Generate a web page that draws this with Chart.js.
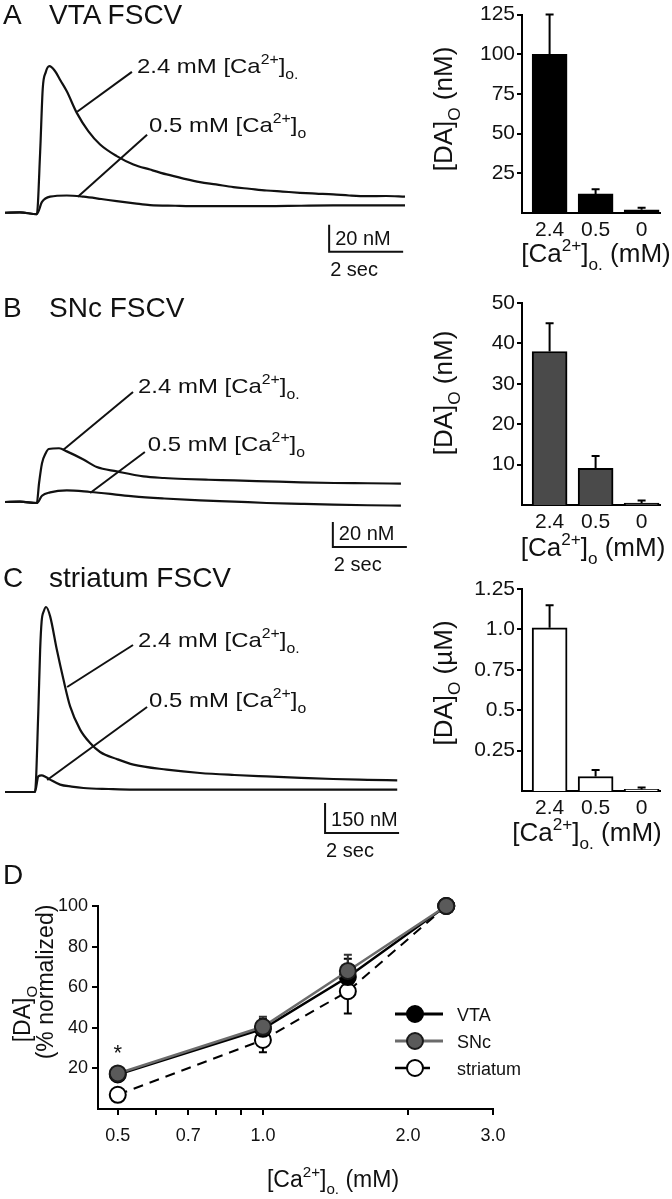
<!DOCTYPE html>
<html>
<head>
<meta charset="utf-8">
<script src="https://cdn.jsdelivr.net/npm/chart.js@4.4.0/dist/chart.umd.min.js"></script>
<style>
  body { margin: 0; background: #fff; }
  #fig { position: relative; width: 672px; height: 1199px; background: #fff; overflow: hidden;
         font-family: 'Liberation Sans', Arial, sans-serif; color: #111; }
  #fig canvas { position: absolute; }
  .tag { position: absolute; font-size: 28px; line-height: 28px; z-index: 2; white-space: nowrap; }
</style>
</head>
<body>
<div id="fig">
  <div class="tag" style="left:3px;top:1px">A</div>
  <div class="tag" style="left:49px;top:1px">VTA FSCV</div>
  <div class="tag" style="left:3px;top:294px">B</div>
  <div class="tag" style="left:49px;top:294px">SNc FSCV</div>
  <div class="tag" style="left:3px;top:564px">C</div>
  <div class="tag" style="left:49px;top:564px">striatum FSCV</div>
  <div class="tag" style="left:3px;top:861px">D</div>

  <canvas id="traceA" width="420" height="310" style="left:0;top:0"></canvas>
  <canvas id="traceB" width="420" height="310" style="left:0;top:280px"></canvas>
  <canvas id="traceC" width="420" height="310" style="left:0;top:555px"></canvas>
  <canvas id="barA" width="252" height="275" style="left:420px;top:0"></canvas>
  <canvas id="barB" width="252" height="290" style="left:420px;top:275px"></canvas>
  <canvas id="barC" width="252" height="300" style="left:420px;top:560px"></canvas>
  <canvas id="curveD" width="672" height="329" style="left:0;top:870px"></canvas>
</div>

<script>
const FONT = "'Liberation Sans', Arial, sans-serif";
const INK = '#111';

// ---- FSCV traces: time (s) and [DA] above baseline (nM)
const vtaHighT = [0, 0.4, 0.86, 0.95, 1.02, 1.1, 1.2, 1.35, 1.5, 1.67, 1.94, 2.25, 2.57, 3.02, 3.47, 3.92, 4.37, 4.8, 5.27, 5.7, 6.17, 6.6, 7.07, 7.5, 7.97, 8.4, 8.87, 9.3, 9.77, 10.3, 10.81];
const vtaHighY = [0, 0.3, -1, 45, 92, 104, 108.6, 105, 98, 90, 74, 60.5, 50.6, 42, 35.8, 32, 28.4, 25.5, 22.7, 21, 19, 17.8, 16.5, 15.7, 14.8, 14.2, 13.6, 12.8, 12.3, 12.4, 11.9];
const vtaLowT = [0, 0.4, 0.86, 1.0, 1.22, 1.67, 2.12, 2.6, 3.02, 3.5, 3.92, 4.6, 5.27, 6.2, 7.07, 8.0, 8.87, 9.8, 10.81];
const vtaLowY = [0, 0.3, -1, 8, 11.9, 12.8, 11.9, 10.2, 8.6, 7, 5.7, 5.2, 4.9, 4.9, 4.9, 5.2, 5.4, 5.4, 5.4];

const sncHighT = [0, 0.4, 0.86, 0.92, 1.0, 1.1, 1.18, 1.46, 1.67, 2.12, 2.48, 3.02, 3.74, 4.3, 4.85, 5.5, 6.2, 7.1, 8.0, 8.9, 9.8, 10.7];
const sncHighY = [0, 0.3, -0.8, 15, 31, 39, 42.4, 43, 40.5, 34, 28, 24.5, 20.5, 19.2, 18.4, 17.8, 17.3, 16.5, 15.7, 15.2, 15, 14.7];
const sncLowT = [0, 0.4, 0.86, 1.0, 1.22, 1.67, 2.3, 2.9, 3.47, 4.3, 5.27, 6.2, 7.07, 8.0, 8.87, 9.8, 10.7];
const sncLowY = [0, 0.3, -0.8, 5, 7.7, 9.3, 8, 6.3, 4.5, 2.8, 1.3, 0.3, -0.8, -1.5, -2.1, -2.6, -2.9];

const strHighT = [0, 0.4, 0.81, 0.9, 0.95, 0.99, 1.05, 1.11, 1.22, 1.4, 1.58, 1.76, 2.03, 2.3, 2.57, 3.02, 3.47, 4.37, 5.27, 6.2, 7.07, 8.0, 8.87, 9.8, 10.6];
const strHighY = [0, 0, 0, 400, 712, 853, 905, 925, 878, 712, 562, 428, 312, 245, 200, 165, 137, 112, 95, 85, 78, 71, 65, 61, 58];
const strLowT = [0, 0.4, 0.81, 0.9, 0.99, 1.1, 1.22, 1.49, 1.8, 2.12, 2.8, 3.47, 5, 7, 9, 10.6];
const strLowY = [0, 0, 0, 78, 83, 75, 62, 37, 27, 20, 15, 12, 12, 12, 12, 12];

// ---- bar graphs
const caLevels = ['2.4', '0.5', '0'];
const vtaMean = [100, 12, 2];
const vtaSem = [25, 3, 1.3];
const sncMean = [38, 9.1, 0.5];
const sncSem = [7, 3, 0.6];
const strMean = [1.01, 0.09, 0.01];
const strSem = [0.14, 0.04, 0.012];
const vtaTicks = [25, 50, 75, 100, 125];
const sncTicks = [10, 20, 30, 40, 50];
const strTicks = [0.25, 0.5, 0.75, 1.0, 1.25];
const strTickLabels = ['0.25', '0.5', '0.75', '1.0', '1.25'];

// ---- panel D: normalized release vs [Ca2+]o
const caConc = [0.5, 1.0, 1.5, 2.4];
const vtaNorm = [17, 39.5, 65, 100];
const vtaErr = [2, 5, 9, 0];
const sncNorm = [17.5, 40.5, 68, 100];
const sncErr = [2, 5, 8, 0];
const strNorm = [7, 34, 58, 100];
const strErr = [2, 6, 11, 0];
const dXTicks = [0.5, 0.6, 0.7, 0.8, 0.9, 1, 2, 3];
const dXLabels = ['0.5', '', '0.7', '', '', '1.0', '2.0', '3.0'];
const dYTicks = [20, 40, 60, 80, 100];

// text pieces: [text, 0 normal / 1 superscript / -1 subscript]
const CA_DOT = [['[Ca', 0], ['2+', 1], [']', 0], ['o.', -1]];
const CA = [['[Ca', 0], ['2+', 1], [']', 0], ['o', -1]];
const HIGH = [['2.4 mM ', 0]].concat(CA_DOT);
const LOW = [['0.5 mM ', 0]].concat(CA);

function drawRich(ctx, parts, x, y, size, align, stretch) {
  const sx = stretch || 1;
  const widths = parts.map(([t, k]) => {
    ctx.font = (k ? size * 0.66 : size) + 'px ' + FONT;
    return ctx.measureText(t).width;
  });
  const total = widths.reduce((a, b) => a + b, 0) * sx;
  const left = align === 'center' ? x - total / 2 : align === 'right' ? x - total : x;
  ctx.save();
  ctx.translate(left, y);
  ctx.scale(sx, 1);
  ctx.textAlign = 'left';
  ctx.textBaseline = 'alphabetic';
  let cx = 0;
  parts.forEach(([t, k], i) => {
    ctx.font = (k ? size * 0.66 : size) + 'px ' + FONT;
    const dy = k === 1 ? -size * 0.42 : k === -1 ? size * 0.3 : 0;
    ctx.fillText(t, cx, dy);
    cx += widths[i];
  });
  ctx.restore();
}

const pts = (xs, ys) => xs.map((v, i) => ({ x: v, y: ys[i] }));

function traceChart(id, series, yMin, yMax, notes, bar) {
  new Chart(document.getElementById(id), {
    type: 'line',
    data: {
      datasets: series.map(([t, y]) => ({
        data: pts(t, y),
        borderColor: INK,
        borderWidth: 2.2,
        pointRadius: 0,
        cubicInterpolationMode: 'monotone',
        clip: false
      }))
    },
    options: {
      responsive: false,
      animation: false,
      events: [],
      layout: { padding: { left: 5, right: 15, top: 40, bottom: 50 } },
      scales: {
        x: { type: 'linear', display: false, min: 0, max: 10.81 },
        y: { display: false, min: yMin, max: yMax }
      },
      plugins: { legend: { display: false }, tooltip: { enabled: false } }
    },
    plugins: [{
      id: 'traceNotes',
      afterDraw(chart) {
        const { ctx } = chart;
        const xs = chart.scales.x, ys = chart.scales.y;
        ctx.save();
        ctx.strokeStyle = INK;
        ctx.fillStyle = INK;
        ctx.lineWidth = 2;
        notes.forEach(n => {
          const x1 = xs.getPixelForValue(n.from[0]), y1 = ys.getPixelForValue(n.from[1]);
          const x2 = xs.getPixelForValue(n.to[0]), y2 = ys.getPixelForValue(n.to[1]);
          ctx.beginPath();
          ctx.moveTo(x1, y1);
          ctx.lineTo(x2, y2);
          ctx.stroke();
          drawRich(ctx, n.parts, x2 + n.dx, y2 + n.dy, 21, 'left', 1.14);
        });
        // scale bar
        const bx0 = xs.getPixelForValue(bar.t), bx1 = xs.getPixelForValue(bar.t + bar.dt);
        const by0 = ys.getPixelForValue(bar.y), by1 = ys.getPixelForValue(bar.y + bar.dy);
        ctx.beginPath();
        ctx.moveTo(bx0, by1);
        ctx.lineTo(bx0, by0);
        ctx.lineTo(bx1, by0);
        ctx.stroke();
        drawRich(ctx, [[bar.label, 0]], bx0 + 6, by0 - 7, 20, 'left');
        drawRich(ctx, [['2 sec', 0]], bx0 + 1, by0 + 24, 20, 'left');
        ctx.restore();
      }
    }]
  });
}

traceChart('traceA', [[vtaHighT, vtaHighY], [vtaLowT, vtaLowY]], -35, 128,
  [{ parts: HIGH, from: [1.95, 74.8], to: [3.43, 104.4], dx: 5, dy: 1 },
   { parts: LOW, from: [1.97, 11.9], to: [3.84, 57.8], dx: 2, dy: -3 }],
  { t: 8.76, y: -28.9, dy: 20, dt: 2, label: '20 nM' });

traceChart('traceB', [[sncHighT, sncHighY], [sncLowT, sncLowY]], -30.4, 145.6,
  [{ parts: HIGH, from: [1.57, 41.6], to: [3.46, 88], dx: 5, dy: 1 },
   { parts: LOW, from: [2.3, 7.2], to: [3.78, 40], dx: 3, dy: -1 }],
  { t: 8.86, y: -36, dy: 20, dt: 2, label: '20 nM' });

traceChart('traceC', [[strHighT, strHighY], [strLowT, strLowY]], -115, 985,
  [{ parts: HIGH, from: [1.68, 525], to: [3.46, 735], dx: 5, dy: 2 },
   { parts: LOW, from: [1.14, 60], to: [3.84, 425], dx: 2, dy: 0 }],
  { t: 8.65, y: -205, dy: 150, dt: 2, label: '150 nM' });

function barChart(id, means, sems, fill, yMax, ticks, tickLabels, unitParts, xParts, lay) {
  const tickFont = { family: FONT, size: 21 };
  new Chart(document.getElementById(id), {
    type: 'bar',
    data: {
      datasets: [{
        data: means.map((m, i) => ({ x: i, y: m })),
        backgroundColor: fill,
        borderColor: '#000',
        borderWidth: 2,
        barThickness: 35
      }]
    },
    options: {
      responsive: false,
      animation: false,
      events: [],
      layout: { padding: { top: lay.top, right: 12, left: 0, bottom: 0 } },
      scales: {
        x: {
          type: 'linear', min: -0.6, max: 2.4, offset: false,
          grid: { display: true, offset: false, drawOnChartArea: false, drawTicks: false },
          border: { color: '#000', width: 2 },
          ticks: { font: tickFont, color: INK, padding: 5, maxRotation: 0, autoSkip: false,
                   callback: (v, i) => caLevels[i] },
          afterBuildTicks: s => { s.ticks = caLevels.map((c, i) => ({ value: i })); },
          afterFit: s => { s.height = lay.h - lay.bottom; }
        },
        y: {
          min: 0, max: yMax,
          grid: { drawOnChartArea: false, tickLength: 5, color: '#000', lineWidth: 2 },
          border: { color: '#000', width: 2 },
          ticks: { font: tickFont, color: INK, padding: 2, autoSkip: false,
                   callback: (v, i) => tickLabels[i] },
          afterBuildTicks: s => { s.ticks = ticks.map(v => ({ value: v })); },
          afterFit: s => { s.width = 102; }
        }
      },
      plugins: { legend: { display: false }, tooltip: { enabled: false } }
    },
    plugins: [{
      id: 'semBars',
      afterDatasetsDraw(chart) {
        const { ctx } = chart;
        const ys = chart.scales.y;
        ctx.save();
        ctx.strokeStyle = '#000';
        ctx.lineWidth = 2;
        chart.getDatasetMeta(0).data.forEach((el, i) => {
          const top = ys.getPixelForValue(means[i]);
          const hi = ys.getPixelForValue(means[i] + sems[i]);
          ctx.beginPath();
          ctx.moveTo(el.x, top);
          ctx.lineTo(el.x, hi);
          ctx.moveTo(el.x - 4, hi);
          ctx.lineTo(el.x + 4, hi);
          ctx.stroke();
        });
        ctx.restore();
      },
      afterDraw(chart) {
        const { ctx, chartArea } = chart;
        ctx.save();
        ctx.fillStyle = INK;
        ctx.translate(23, lay.yTitleY);
        ctx.rotate(-Math.PI / 2);
        drawRich(ctx, [['[DA]', 0], ['O', -1]].concat(unitParts), 0, 9, 26, 'center');
        ctx.restore();
        ctx.save();
        ctx.fillStyle = INK;
        drawRich(ctx, xParts, lay.xTitleX, chartArea.bottom + lay.xTitleDy, 26, 'center');
        ctx.restore();
      }
    }]
  });
}

barChart('barA', vtaMean, vtaSem, '#000', 125, vtaTicks, vtaTicks.map(String),
  [[' (nM)', 0]], CA_DOT.concat([[' (mM)', 0]]),
  { top: 12, bottom: 213, h: 275, yTitleY: 109, xTitleX: 176, xTitleDy: 49 });

barChart('barB', sncMean, sncSem, '#4a4a4a', 50, sncTicks, sncTicks.map(String),
  [[' (nM)', 0]], CA.concat([[' (mM)', 0]]),
  { top: 28, bottom: 230, h: 290, yTitleY: 118, xTitleX: 173, xTitleDy: 51 });

barChart('barC', strMean, strSem, '#fff', 1.25, strTicks, strTickLabels,
  [[' (\u00b5M)', 0]], CA_DOT.concat([[' (mM)', 0]]),
  { top: 29, bottom: 231, h: 300, yTitleY: 123, xTitleX: 167, xTitleDy: 50 });

// ---- panel D
const dSeries = [
  { label: 'VTA', y: vtaNorm, err: vtaErr, line: '#000', fill: '#000', edge: '#000', width: 2.5, dash: [], order: 1 },
  { label: 'SNc', y: sncNorm, err: sncErr, line: '#6b6b6b', fill: '#5a5a5a', edge: '#1a1a1a', width: 2.5, dash: [], order: 0 },
  { label: 'striatum', y: strNorm, err: strErr, line: '#000', fill: '#fff', edge: '#000', width: 2, dash: [10, 7], order: 2 }
];

new Chart(document.getElementById('curveD'), {
  type: 'line',
  data: {
    datasets: dSeries.map(s => ({
      label: s.label,
      data: pts(caConc, s.y),
      borderColor: s.line,
      borderWidth: s.width,
      borderDash: s.dash,
      pointRadius: 8,
      pointBackgroundColor: s.fill,
      pointBorderColor: s.edge,
      pointBorderWidth: 2,
      order: s.order,
      clip: false
    }))
  },
  options: {
    responsive: false,
    animation: false,
    events: [],
    layout: { padding: { top: 36, right: 179, left: 0, bottom: 0 } },
    scales: {
      x: {
        type: 'logarithmic', min: 0.455, max: 3.0,
        grid: { drawOnChartArea: false, tickLength: 6, color: '#000', lineWidth: 2 },
        border: { color: '#000', width: 2 },
        ticks: { font: { family: FONT, size: 18 }, color: INK, padding: 10, maxRotation: 0, autoSkip: false,
                 callback: (v, i) => dXLabels[i] },
        afterBuildTicks: s => { s.ticks = dXTicks.map(v => ({ value: v })); },
        afterFit: s => { s.height = 90; }
      },
      y: {
        min: 0, max: 100,
        grid: { drawOnChartArea: false, tickLength: 6, color: '#000', lineWidth: 2 },
        border: { color: '#000', width: 2 },
        ticks: { font: { family: FONT, size: 18 }, color: INK, padding: 4, autoSkip: false },
        afterBuildTicks: s => { s.ticks = dYTicks.map(v => ({ value: v })); },
        afterFit: s => { s.width = 98; }
      }
    },
    plugins: { legend: { display: false }, tooltip: { enabled: false } }
  },
  plugins: [{
    id: 'dExtras',
    beforeDatasetsDraw(chart) {
      const { ctx } = chart;
      const ys = chart.scales.y;
      ctx.save();
      ctx.lineWidth = 2;
      dSeries.forEach((s, di) => {
        ctx.strokeStyle = s.edge === '#1a1a1a' ? '#333' : '#000';
        chart.getDatasetMeta(di).data.forEach((el, i) => {
          if (!s.err[i]) return;
          const hi = ys.getPixelForValue(s.y[i] + s.err[i]);
          const lo = ys.getPixelForValue(s.y[i] - s.err[i]);
          ctx.beginPath();
          ctx.moveTo(el.x, lo);
          ctx.lineTo(el.x, hi);
          ctx.moveTo(el.x - 4, hi);
          ctx.lineTo(el.x + 4, hi);
          ctx.moveTo(el.x - 4, lo);
          ctx.lineTo(el.x + 4, lo);
          ctx.stroke();
        });
      });
      ctx.restore();
    },
    afterDraw(chart) {
      const { ctx } = chart;
      const xs = chart.scales.x, ys = chart.scales.y;
      ctx.save();
      ctx.fillStyle = INK;
      // significance mark
      ctx.font = '22px ' + FONT;
      ctx.textAlign = 'center';
      ctx.textBaseline = 'alphabetic';
      ctx.fillText('*', xs.getPixelForValue(caConc[0]), ys.getPixelForValue(24));
      // legend
      dSeries.forEach((s, i) => {
        const y = 144 + i * 27;
        ctx.save();
        ctx.strokeStyle = s.line;
        ctx.lineWidth = s.width + 0.5;
        ctx.setLineDash(s.dash.length ? [12, 11] : []);
        ctx.beginPath();
        ctx.moveTo(395, y);
        ctx.lineTo(s.dash.length ? 438 : 443, y);
        ctx.stroke();
        ctx.setLineDash([]);
        ctx.beginPath();
        ctx.arc(415, y, 8, 0, Math.PI * 2);
        ctx.fillStyle = s.fill;
        ctx.fill();
        ctx.lineWidth = 2;
        ctx.strokeStyle = s.edge;
        ctx.stroke();
        ctx.restore();
        drawRich(ctx, [[s.label, 0]], 457, y + 7, 18, 'left');
      });
      // axis titles
      drawRich(ctx, CA_DOT.concat([[' (mM)', 0]]), 333, 317, 23, 'center');
      ctx.save();
      ctx.translate(45, 112);
      ctx.rotate(-Math.PI / 2);
      drawRich(ctx, [['(% normalized)', 0]], 0, 8, 23, 'center');
      ctx.restore();
      ctx.save();
      ctx.translate(22, 144);
      ctx.rotate(-Math.PI / 2);
      drawRich(ctx, [['[DA]', 0], ['O', -1]], 0, 8, 23, 'center');
      ctx.restore();
      ctx.restore();
    }
  }]
});
</script>
</body>
</html>
